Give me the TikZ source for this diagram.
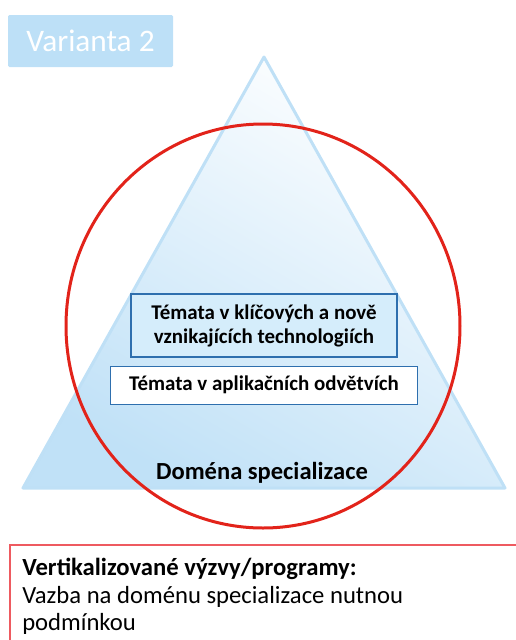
\documentclass[tikz,border=0pt]{standalone}
\usepackage{fontspec}
\setmainfont{Carlito}
\usepackage[dvipsnames]{xcolor}
\usetikzlibrary{positioning}

\definecolor{labelblue}{HTML}{BDE0F7}
\definecolor{triline}{HTML}{BFE0F6}
\definecolor{trifill}{HTML}{C0E1F7}
\definecolor{topicfill}{HTML}{D5EDFB}
\definecolor{topicline}{HTML}{2E6FAE}
\definecolor{circlered}{HTML}{E2231A}
\definecolor{condred}{HTML}{EE5A60}

\tikzset{
    topicbox/.style = {rectangle, draw = topicline, line width = 0.8pt, align = center, inner sep = 0pt, font = \bfseries\fontsize{15.7}{18}\selectfont},
}

\begin{document}
\begin{tikzpicture}[x = 0.75pt, y = -0.75pt]
        \def\unit{0.75}
        \useasboundingbox (0,0) rectangle (515,640);

        % pyramid and circle
        \path [draw = triline, line width = 3*\unit pt, line join = round, top color = white, bottom color = trifill, shading angle = -30] (264,57) -- (505,488) -- (23,488) -- cycle;
        \draw [circlered, line width = 3*\unit pt] (263,326) ellipse [x radius = 197*\unit pt, y radius = 202*\unit pt];

        \node(variant) [rectangle, fill = labelblue, rounded corners = 1pt, minimum width = 165*\unit pt, minimum height = 52*\unit pt, text = white, font = \fontsize{23.5}{27}\selectfont] at (90.5,41) {Varianta 2};

        \node(keytech) [topicbox, fill = topicfill, minimum width = 266*\unit pt, minimum height = 63*\unit pt] at (264,325.5) {Témata v klíčových a nově\\vznikajících technologiích};
        \node(sectors) [topicbox, fill = white, minimum width = 307*\unit pt, minimum height = 38*\unit pt, below = 6pt of keytech] {Témata v aplikačních odvětvích};

        \node(domain) [anchor = base, font = \bfseries\fontsize{18.4}{22}\selectfont] at (262,479) {Doména specializace};

        % condition box, cut by the page edge
        \node(condition) [rectangle, draw = condred, line width = 1.5*\unit pt, anchor = north west, minimum width = 530*\unit pt, minimum height = 110*\unit pt] at (9,544) {};
        \node(condtext) [anchor = north west, align = left, inner sep = 0pt, font = \fontsize{18.5}{20.6}\selectfont] at (22,558) {\textbf{Vertikalizované výzvy/programy:}\\Vazba na doménu specializace nutnou\\podmínkou};
    \end{tikzpicture}
\end{document}
